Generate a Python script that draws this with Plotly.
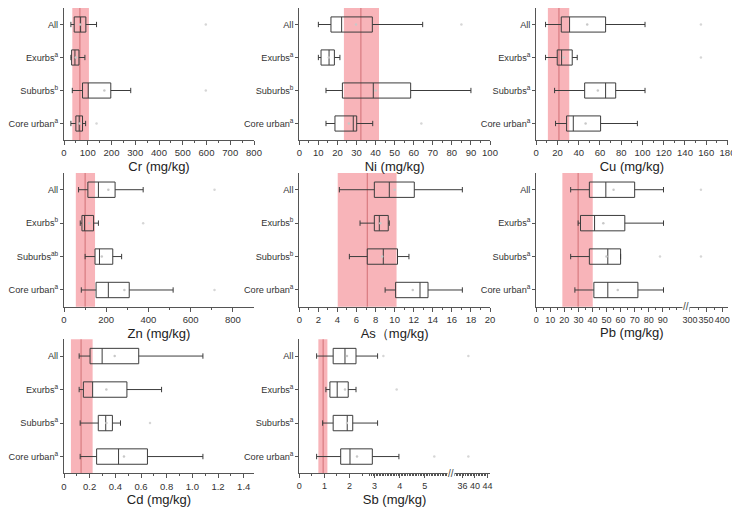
import plotly.graph_objects as go

categories = ["All", "Exurbs", "Suburbs", "Core urban"]

# per category: lower whisker, Q1, median, Q3, upper whisker
cr_stats = [[29, 43, 70, 92, 137], [29, 32, 46, 63, 88], [35, 78, 102, 197, 281], [29, 50, 64, 78, 91]]
cr_mean = [68, 50, 170, 66]
cr_extra = [[597], [], [597], [137]]
cr_band = [35, 105, 67]
cr_letters = ["", "a", "b", "a"]

ni_stats = [[10, 16.6, 22.2, 38.3, 64.7], [10, 11.4, 15.6, 18.4, 21.3], [14, 22.6, 38.8, 58.4, 90], [14, 18.7, 28.3, 30.1, 38.5]]
ni_mean = [29.7, 15.5, 40, 26]
ni_extra = [[85], [], [], [64]]
ni_band = [23.4, 41.8, 32.3]
ni_letters = ["", "a", "b", "a"]

cu_stats = [[8.8, 23.6, 31.4, 65.3, 102.4], [8.8, 19.8, 23.9, 33.9, 38.6], [17.3, 45.6, 65.3, 74.8, 102.4], [18.2, 28.6, 34.9, 60.6, 95.2]]
cu_mean = [48, 26, 58, 46.5]
cu_extra = [[155], [155], [], []]
cu_band = [11, 31.1, 21.4]
cu_letters = ["", "a", "a", "a"]

zn_stats = [[69, 113, 163, 242, 375], [77, 85, 97, 140, 163], [100, 147, 168, 231, 273], [82, 152, 210, 309, 517]]
zn_mean = [210, 120, 179, 286]
zn_extra = [[713], [375], [], [713]]
zn_band = [56, 147, 100]
zn_letters = ["", "b", "ab", "a"]

as_stats = [[4.2, 7.87, 9.44, 12.06, 17.1], [6.37, 7.87, 8.39, 9.33, 9.44], [5.25, 7.13, 8.81, 10.3, 11.5], [9.0, 10.1, 12.66, 13.5, 17.1]]
as_mean = [10, 8.5, 8.7, 11.9]
as_extra = [[], [], [], []]
as_band = [4.03, 10.2, 7.13]
as_letters = ["", "b", "b", "a"]

pb_stats = [[24.5, 37.8, 49.5, 70, 90.5], [29.8, 31.5, 41.5, 63, 90.5], [24.5, 37.8, 50.9, 60, 60], [27.5, 41, 50.9, 72.3, 90.5]]
pb_mean = [55, 47.7, 50, 58]
pb_extra = [[334], [], [88, 334], []]
pb_band = [18.6, 40.2, 29.8]
pb_letters = ["", "a", "a", "a"]

cd_stats = [[0.118, 0.203, 0.297, 0.582, 1.082], [0.118, 0.151, 0.223, 0.49, 0.76], [0.126, 0.267, 0.325, 0.377, 0.44], [0.126, 0.254, 0.425, 0.65, 1.082]]
cd_mean = [0.395, 0.33, 0.33, 0.467]
cd_extra = [[], [], [0.67], []]
cd_band = [0.054, 0.223, 0.133]
cd_letters = ["", "a", "a", "a"]

sb_stats = [[0.69, 1.35, 1.82, 2.26, 3.12], [1.06, 1.22, 1.51, 1.95, 2.26], [0.93, 1.35, 1.91, 2.13, 3.12], [0.69, 1.65, 2.02, 2.91, 3.97]]
sb_mean = [1.9, 1.82, 1.9, 2.3]
sb_extra = [[3.35, 37.9], [3.88], [], [5.38, 37.9]]
sb_band = [0.76, 1.12, 0.95]
sb_letters = ["", "a", "a", "a"]


# broken axes: the upper segment is squeezed after the break
def pb_t(v):
    return v if v <= 100 else 109.3 + (v - 300) * 0.23


def sb_t(v):
    return v if v <= 6 else 6.5 + (v - 36) / 8.0


def ident(v):
    return v


# page body has an 8px margin, so the figure is shrunk and shifted to fit the window
OFF = 8
W, H = 740 - OFF, 511 - OFF
cols = [(64, 254), (299.3, 490), (536.2, 727.5)]
rows = [(8, 140), (173, 306.7), (339.3, 473.3)]

FONT = "Arial, Liberation Sans, sans-serif"
AX = "#555555"
LINE = "#3c3c3c"

panels = [
    ("Cr (mg/kg)", cr_stats, cr_mean, cr_extra, cr_band, cr_letters, 0, 0, [0, 800], list(range(0, 801, 100)), None, 50, ident),
    ("Ni (mg/kg)", ni_stats, ni_mean, ni_extra, ni_band, ni_letters, 0, 1, [0, 100], list(range(0, 101, 10)), None, 5, ident),
    ("Cu (mg/kg)", cu_stats, cu_mean, cu_extra, cu_band, cu_letters, 0, 2, [0, 180], list(range(0, 181, 20)), None, 10, ident),
    ("Zn (mg/kg)", zn_stats, zn_mean, zn_extra, zn_band, zn_letters, 1, 0, [0, 900], list(range(0, 801, 200)), None, 100, ident),
    ("As（mg/kg)", as_stats, as_mean, as_extra, as_band, as_letters, 1, 1, [0, 20], list(range(0, 21, 2)), None, 1, ident),
    ("Pb (mg/kg)", pb_stats, pb_mean, pb_extra, pb_band, pb_letters, 1, 2, [0, 136],
     list(range(0, 91, 10)) + [300, 350, 400], 106.5, 5, pb_t),
    ("Cd (mg/kg)", cd_stats, cd_mean, cd_extra, cd_band, cd_letters, 2, 0, [0, 1.48],
     [0, 0.2, 0.4, 0.6, 0.8, 1.0, 1.2, 1.4], None, 0.1, ident),
    ("Sb (mg/kg)", sb_stats, sb_mean, sb_extra, sb_band, sb_letters, 2, 1, [0, 7.6],
     [0, 1, 2, 3, 4, 5, 36, 40, 44], 6.05, 0.5, sb_t),
]

fig = go.Figure()
shapes = []
annotations = []
ypos = list(range(len(categories)))

for i, (title, stats, mean, extra, band, letters, r, c, rng, ticks, brk, minor_step, tf) in enumerate(panels):
    n = "" if i == 0 else str(i + 1)
    xa, ya = "x" + n, "y" + n
    x0, x1 = cols[c]
    y0, y1 = rows[r]

    fig.add_trace(go.Box(
        y=ypos, orientation="h",
        lowerfence=[tf(s[0]) for s in stats], q1=[tf(s[1]) for s in stats],
        median=[tf(s[2]) for s in stats], q3=[tf(s[3]) for s in stats],
        upperfence=[tf(s[4]) for s in stats],
        width=0.46, whiskerwidth=0.35, fillcolor="rgba(0,0,0,0)",
        line=dict(color=LINE, width=1), boxpoints=False,
        xaxis=xa, yaxis=ya, showlegend=False, hoverinfo="skip"))

    fig.add_trace(go.Scatter(
        x=[tf(m) for m in mean], y=ypos, mode="markers",
        marker=dict(size=2.5, color="#c8c8c8"),
        xaxis=xa, yaxis=ya, showlegend=False, hoverinfo="skip"))

    ex_x, ex_y = [], []
    for k, vals in enumerate(extra):
        for v in vals:
            ex_x.append(tf(v))
            ex_y.append(k)
    fig.add_trace(go.Scatter(
        x=ex_x, y=ex_y, mode="markers",
        marker=dict(size=2.5, color="#d6d6d6"),
        xaxis=xa, yaxis=ya, showlegend=False, hoverinfo="skip"))

    # background range band and reference line
    shapes.append(dict(type="rect", xref=xa, yref=ya + " domain", x0=tf(band[0]), x1=tf(band[1]),
                       y0=0, y1=1, fillcolor="rgba(244,140,148,0.65)", line=dict(width=0), layer="below"))
    shapes.append(dict(type="line", xref=xa, yref=ya + " domain", x0=tf(band[2]), x1=tf(band[2]),
                       y0=0, y1=1, line=dict(color="rgba(200,95,100,0.8)", width=1), layer="below"))

    # minor ticks
    minor_vals = []
    v = 0.0
    top = ticks[-1]
    while v <= min(top, rng[1] if tf is ident else 100) + 1e-9:
        minor_vals.append(round(v, 4))
        v += minor_step
    if tf is pb_t:
        minor_vals += [325, 375]
    if tf is sb_t:
        minor_vals += [38, 42]

    ticktext = [("%g" % t) if not isinstance(t, float) else ("%.1f" % t) for t in ticks]
    fig.layout["xaxis" + n] = dict(
        domain=[max(0, (x0 - OFF) / W), min(1, (x1 - OFF) / W)], anchor=ya, range=rng,
        tickvals=[tf(t) for t in ticks], ticktext=ticktext, tickangle=0,
        ticks="outside", ticklen=4, tickwidth=1, tickcolor=AX,
        minor=dict(tickvals=[tf(m) for m in minor_vals], ticks="outside", ticklen=2, tickcolor=AX),
        showline=True, linecolor=AX, linewidth=1, showgrid=False, zeroline=False,
        tickfont=dict(size=9 if brk is not None else 9.5, color="#333333", family=FONT),
        title=dict(text=title, font=dict(size=13, color="#222222", family=FONT), standoff=4),
        automargin=False)
    fig.layout["yaxis" + n] = dict(
        domain=[max(0, 1 - (y1 - OFF) / H), min(1, 1 - (y0 - OFF) / H)], anchor=xa, range=[3.5, -0.5],
        tickvals=ypos,
        ticktext=[cat + ("<sup>%s</sup>" % lt if lt else "") for cat, lt in zip(categories, letters)],
        ticks="outside", ticklen=3, tickwidth=1, tickcolor=AX,
        showline=True, linecolor=AX, linewidth=1, showgrid=False, zeroline=False,
        tickfont=dict(size=9.2, color="#333333", family=FONT), automargin=False)

    if brk is not None:
        annotations.append(dict(text="//", x=brk, xref=xa, y=0, yref=ya + " domain",
                                showarrow=False, font=dict(size=10, color="#444444", family=FONT),
                                xanchor="center", yanchor="middle", bgcolor="white", borderpad=0))

fig.update_layout(
    width=W, height=H, margin=dict(l=0, r=0, t=0, b=0),
    paper_bgcolor="white", plot_bgcolor="white",
    shapes=shapes, annotations=annotations, showlegend=False)

fig.write_html("out.html")
